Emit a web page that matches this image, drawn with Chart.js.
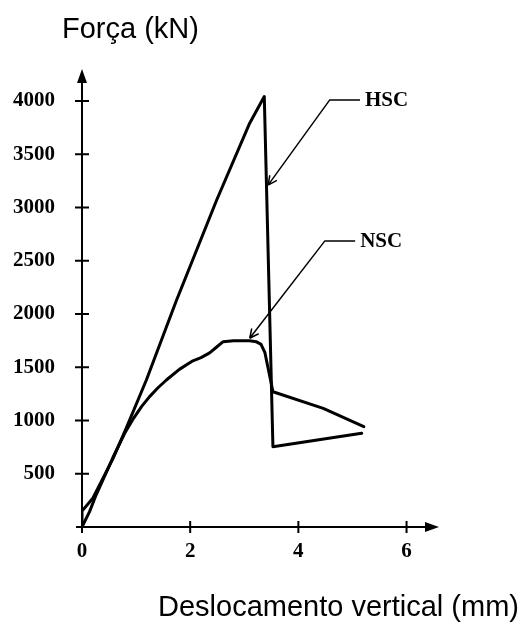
<!DOCTYPE html>
<html>
<head>
<meta charset="utf-8">
<script src="https://cdn.jsdelivr.net/npm/chart.js@4.4.0/dist/chart.umd.min.js"></script>
<style>
    html, body { margin: 0; padding: 0; background: #fff; }
    canvas { display: block; }
</style>
</head>
<body>
<canvas id="grafico" width="523" height="624"></canvas>
<script>
// Curva HSC (concreto de alta resistência): deslocamento (mm) x força (kN)
const hscX = [0, 0, 0.2, 0.57, 0.82, 1.19, 1.74, 2.49, 3.10, 3.37, 3.53, 5.17];
const hscY = [0, 150, 270, 640, 930, 1380, 2120, 3070, 3791, 4041, 754, 880];

// Curva NSC (concreto de resistência normal)
const nscX = [0, 0.14, 0.26, 0.57, 0.8, 0.94, 1.1, 1.25, 1.4, 1.56, 1.8, 2.05, 2.2, 2.36, 2.49, 2.61, 2.8, 3.10, 3.22, 3.31, 3.38, 3.53, 4.46, 5.21];
const nscY = [0, 144, 300, 650, 890, 1010, 1130, 1224, 1305, 1380, 1480, 1560, 1590, 1635, 1690, 1740, 1748, 1749, 1740, 1715, 1640, 1270, 1114, 942];

const xTicks = [0, 2, 4, 6];
const yTicks = [500, 1000, 1500, 2000, 2500, 3000, 3500, 4000];
const xMax = 6.6;
const yMax = 4300;

// Setas que identificam cada curva (em unidades dos eixos)
const rotulos = [
    { texto: 'HSC', ponta: [3.44, 3210], cotovelo: [4.58, 4010], fim: [5.14, 4010] },
    { texto: 'NSC', ponta: [3.10, 1772], cotovelo: [4.49, 2686], fim: [5.05, 2686] }
];

const fonteNumeros = { family: 'Liberation Serif', weight: 'bold', size: 21 };

function serie(xs, ys) {
    return xs.map((x, i) => ({ x: x, y: ys[i] }));
}

// Desenha os eixos com setas, as marcas dos ticks, as setas dos rótulos e os títulos
const eixosPlugin = {
    id: 'eixos',
    afterDatasetsDraw(chart) {
        const ctx = chart.ctx;
        const sx = chart.scales.x;
        const sy = chart.scales.y;
        const x0 = sx.getPixelForValue(0);
        const y0 = sy.getPixelForValue(0);
        const xFim = sx.getPixelForValue(xMax);
        const yFim = sy.getPixelForValue(yMax);

        ctx.save();
        ctx.strokeStyle = '#000';
        ctx.fillStyle = '#000';
        ctx.lineWidth = 2;

        ctx.beginPath();
        ctx.moveTo(x0 - 6, y0);
        ctx.lineTo(xFim - 8, y0);
        ctx.moveTo(x0, y0 + 6);
        ctx.lineTo(x0, yFim + 8);
        xTicks.forEach(v => {
            const px = sx.getPixelForValue(v);
            ctx.moveTo(px, y0 - 6);
            ctx.lineTo(px, y0 + 6);
        });
        yTicks.forEach(v => {
            const py = sy.getPixelForValue(v);
            ctx.moveTo(x0 - 7, py);
            ctx.lineTo(x0 + 7, py);
        });
        ctx.stroke();

        // pontas de seta dos eixos
        ctx.beginPath();
        ctx.moveTo(xFim, y0);
        ctx.lineTo(xFim - 14, y0 - 5);
        ctx.lineTo(xFim - 14, y0 + 5);
        ctx.closePath();
        ctx.moveTo(x0, yFim);
        ctx.lineTo(x0 - 5, yFim + 14);
        ctx.lineTo(x0 + 5, yFim + 14);
        ctx.closePath();
        ctx.fill();

        // setas HSC / NSC
        ctx.lineWidth = 1.5;
        ctx.font = 'bold 21px "Liberation Serif"';
        ctx.textBaseline = 'middle';
        ctx.textAlign = 'left';
        rotulos.forEach(r => {
            const p = [sx.getPixelForValue(r.ponta[0]), sy.getPixelForValue(r.ponta[1])];
            const c = [sx.getPixelForValue(r.cotovelo[0]), sy.getPixelForValue(r.cotovelo[1])];
            const f = [sx.getPixelForValue(r.fim[0]), sy.getPixelForValue(r.fim[1])];
            ctx.beginPath();
            ctx.moveTo(f[0], f[1]);
            ctx.lineTo(c[0], c[1]);
            ctx.lineTo(p[0], p[1]);
            const ang = Math.atan2(c[1] - p[1], c[0] - p[0]);
            [-0.45, 0.45].forEach(d => {
                ctx.moveTo(p[0], p[1]);
                ctx.lineTo(p[0] + 10 * Math.cos(ang + d), p[1] + 10 * Math.sin(ang + d));
            });
            ctx.stroke();
            ctx.fillText(r.texto, f[0] + 5, f[1] + 1);
        });

        // títulos dos eixos
        ctx.font = '29px "Liberation Sans"';
        ctx.textBaseline = 'alphabetic';
        ctx.fillText('Força (kN)', 62, 38);
        ctx.fillText('Deslocamento vertical (mm)', 158, 616);
        ctx.restore();
    }
};

new Chart(document.getElementById('grafico'), {
    type: 'line',
    data: {
        datasets: [
            {
                label: 'HSC',
                data: serie(hscX, hscY),
                borderColor: '#000',
                borderWidth: 3,
                pointRadius: 0,
                tension: 0,
                fill: false,
                borderJoinStyle: 'round',
                borderCapStyle: 'round'
            },
            {
                label: 'NSC',
                data: serie(nscX, nscY),
                borderColor: '#000',
                borderWidth: 3,
                pointRadius: 0,
                tension: 0,
                fill: false,
                borderJoinStyle: 'round',
                borderCapStyle: 'round'
            }
        ]
    },
    options: {
        responsive: false,
        animation: false,
        devicePixelRatio: 1,
        layout: { padding: { top: 69, right: 84, left: 0, bottom: 0 } },
        plugins: {
            legend: { display: false },
            tooltip: { enabled: false }
        },
        scales: {
            x: {
                type: 'linear',
                min: 0,
                max: xMax,
                afterFit: s => { s.height = 97; },
                afterBuildTicks: s => { s.ticks = xTicks.map(v => ({ value: v })); },
                grid: { display: false, drawTicks: false },
                border: { display: false },
                ticks: {
                    padding: 12,
                    color: '#000',
                    autoSkip: false,
                    maxRotation: 0,
                    font: fonteNumeros,
                    callback: v => String(v)
                }
            },
            y: {
                type: 'linear',
                min: 0,
                max: yMax,
                afterFit: s => { s.width = 82; },
                afterBuildTicks: s => { s.ticks = yTicks.map(v => ({ value: v })); },
                grid: { display: false, drawTicks: false },
                border: { display: false },
                ticks: {
                    padding: 27,
                    color: '#000',
                    autoSkip: false,
                    font: fonteNumeros,
                    callback: v => String(v)
                }
            }
        }
    },
    plugins: [eixosPlugin]
});
</script>
</body>
</html>
